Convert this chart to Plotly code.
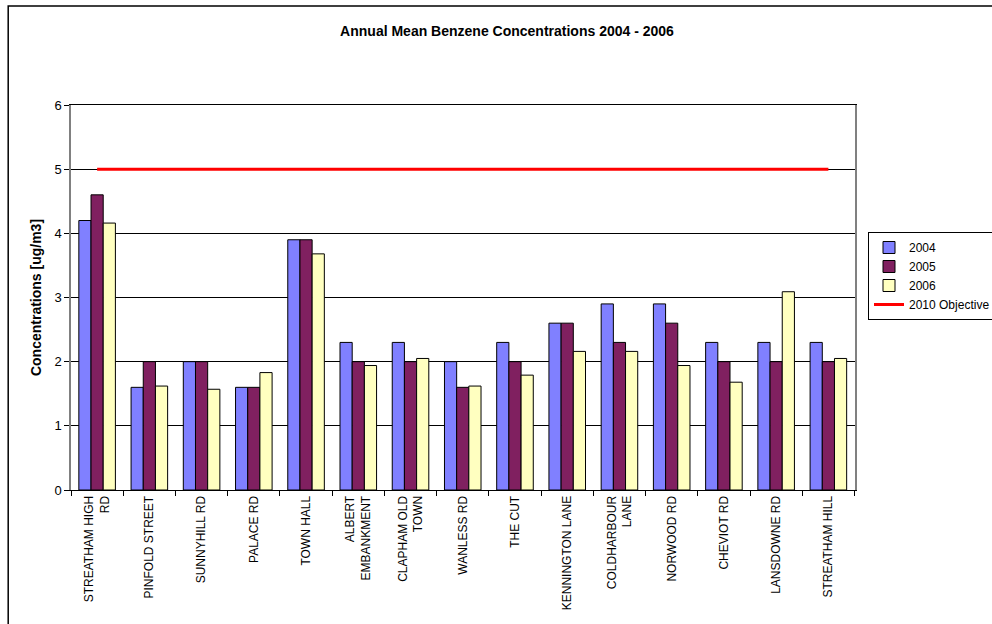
import plotly.graph_objects as go

categories = ["STREATHAM HIGH<br>RD", "PINFOLD STREET", "SUNNYHILL RD", "PALACE RD", "TOWN HALL",
              "ALBERT<br>EMBANKMENT", "CLAPHAM OLD<br>TOWN", "WANLESS RD", "THE CUT", "KENNINGTON LANE",
              "COLDHARBOUR<br>LANE", "NORWOOD RD", "CHEVIOT RD", "LANSDOWNE RD", "STREATHAM HILL"]
v2004 = [4.2, 1.6, 2.0, 1.6, 3.9, 2.3, 2.3, 2.0, 2.3, 2.6, 2.9, 2.9, 2.3, 2.3, 2.3]
v2005 = [4.6, 2.0, 2.0, 1.6, 3.9, 2.0, 2.0, 1.6, 2.0, 2.6, 2.3, 2.6, 2.0, 2.0, 2.0]
v2006 = [4.16, 1.62, 1.57, 1.83, 3.68, 1.94, 2.05, 1.62, 1.79, 2.16, 2.16, 1.94, 1.68, 3.09, 2.05]
objective = [5] * len(categories)

fig = go.Figure()
fig.add_bar(x=categories, y=v2004, name="2004", marker=dict(color="#8080FF", line=dict(color="black", width=1)))
fig.add_bar(x=categories, y=v2005, name="2005", marker=dict(color="#802060", line=dict(color="black", width=1)))
fig.add_bar(x=categories, y=v2006, name="2006", marker=dict(color="#FFFFC0", line=dict(color="black", width=1)))
fig.add_scatter(x=categories, y=objective, name="2010 Objective", mode="lines",
                line=dict(color="#FF0000", width=3))

L, R, T, B = 71, 135, 105, 134
W, H = 992 - L - R, 624 - T - B

fig.update_layout(
    width=992, height=624,
    margin=dict(l=L, r=R, t=T, b=B),
    paper_bgcolor="white", plot_bgcolor="white",
    font=dict(family="Arial, Liberation Sans, sans-serif", size=12, color="black"),
    title=dict(text="<b>Annual Mean Benzene Concentrations 2004 - 2006</b>",
               x=507 / 992, xref="container", xanchor="center", y=1 - 31 / 624, yanchor="middle",
               font=dict(size=14)),
    barmode="group", bargap=0.3, bargroupgap=0,
    legend=dict(xref="container", yref="container", x=868 / 992, y=1 - 232 / 624,
                xanchor="left", yanchor="top",
                bordercolor="black", borderwidth=1, bgcolor="white",
                font=dict(size=12), tracegroupgap=0, itemwidth=30),
    showlegend=True,
    shapes=[dict(type="rect", xref="paper", yref="paper",
                 x0=-(L - 8) / W, x1=1 + (R + 10) / W,
                 y0=-(B + 10) / H, y1=1 + (T - 6) / H,
                 line=dict(color="black", width=1.5), fillcolor="rgba(0,0,0,0)", layer="below")],
)
fig.update_yaxes(range=[0, 6], dtick=1, showgrid=True, gridcolor="black", gridwidth=1,
                 showline=True, linecolor="#808080", linewidth=1.5, mirror=True,
                 ticks="outside", ticklen=5, tickcolor="black",
                 tickfont=dict(size=13), zeroline=False,
                 title=dict(text="<b>Concentrations [ug/m3]</b>", font=dict(size=14), standoff=10))
fig.update_xaxes(showline=True, linecolor="black", linewidth=1, mirror=True, tickangle=-90,
                 ticks="outside", ticklen=5, tickson="boundaries", tickcolor="black",
                 tickfont=dict(size=12), showgrid=False)

fig.write_html("out.html")
